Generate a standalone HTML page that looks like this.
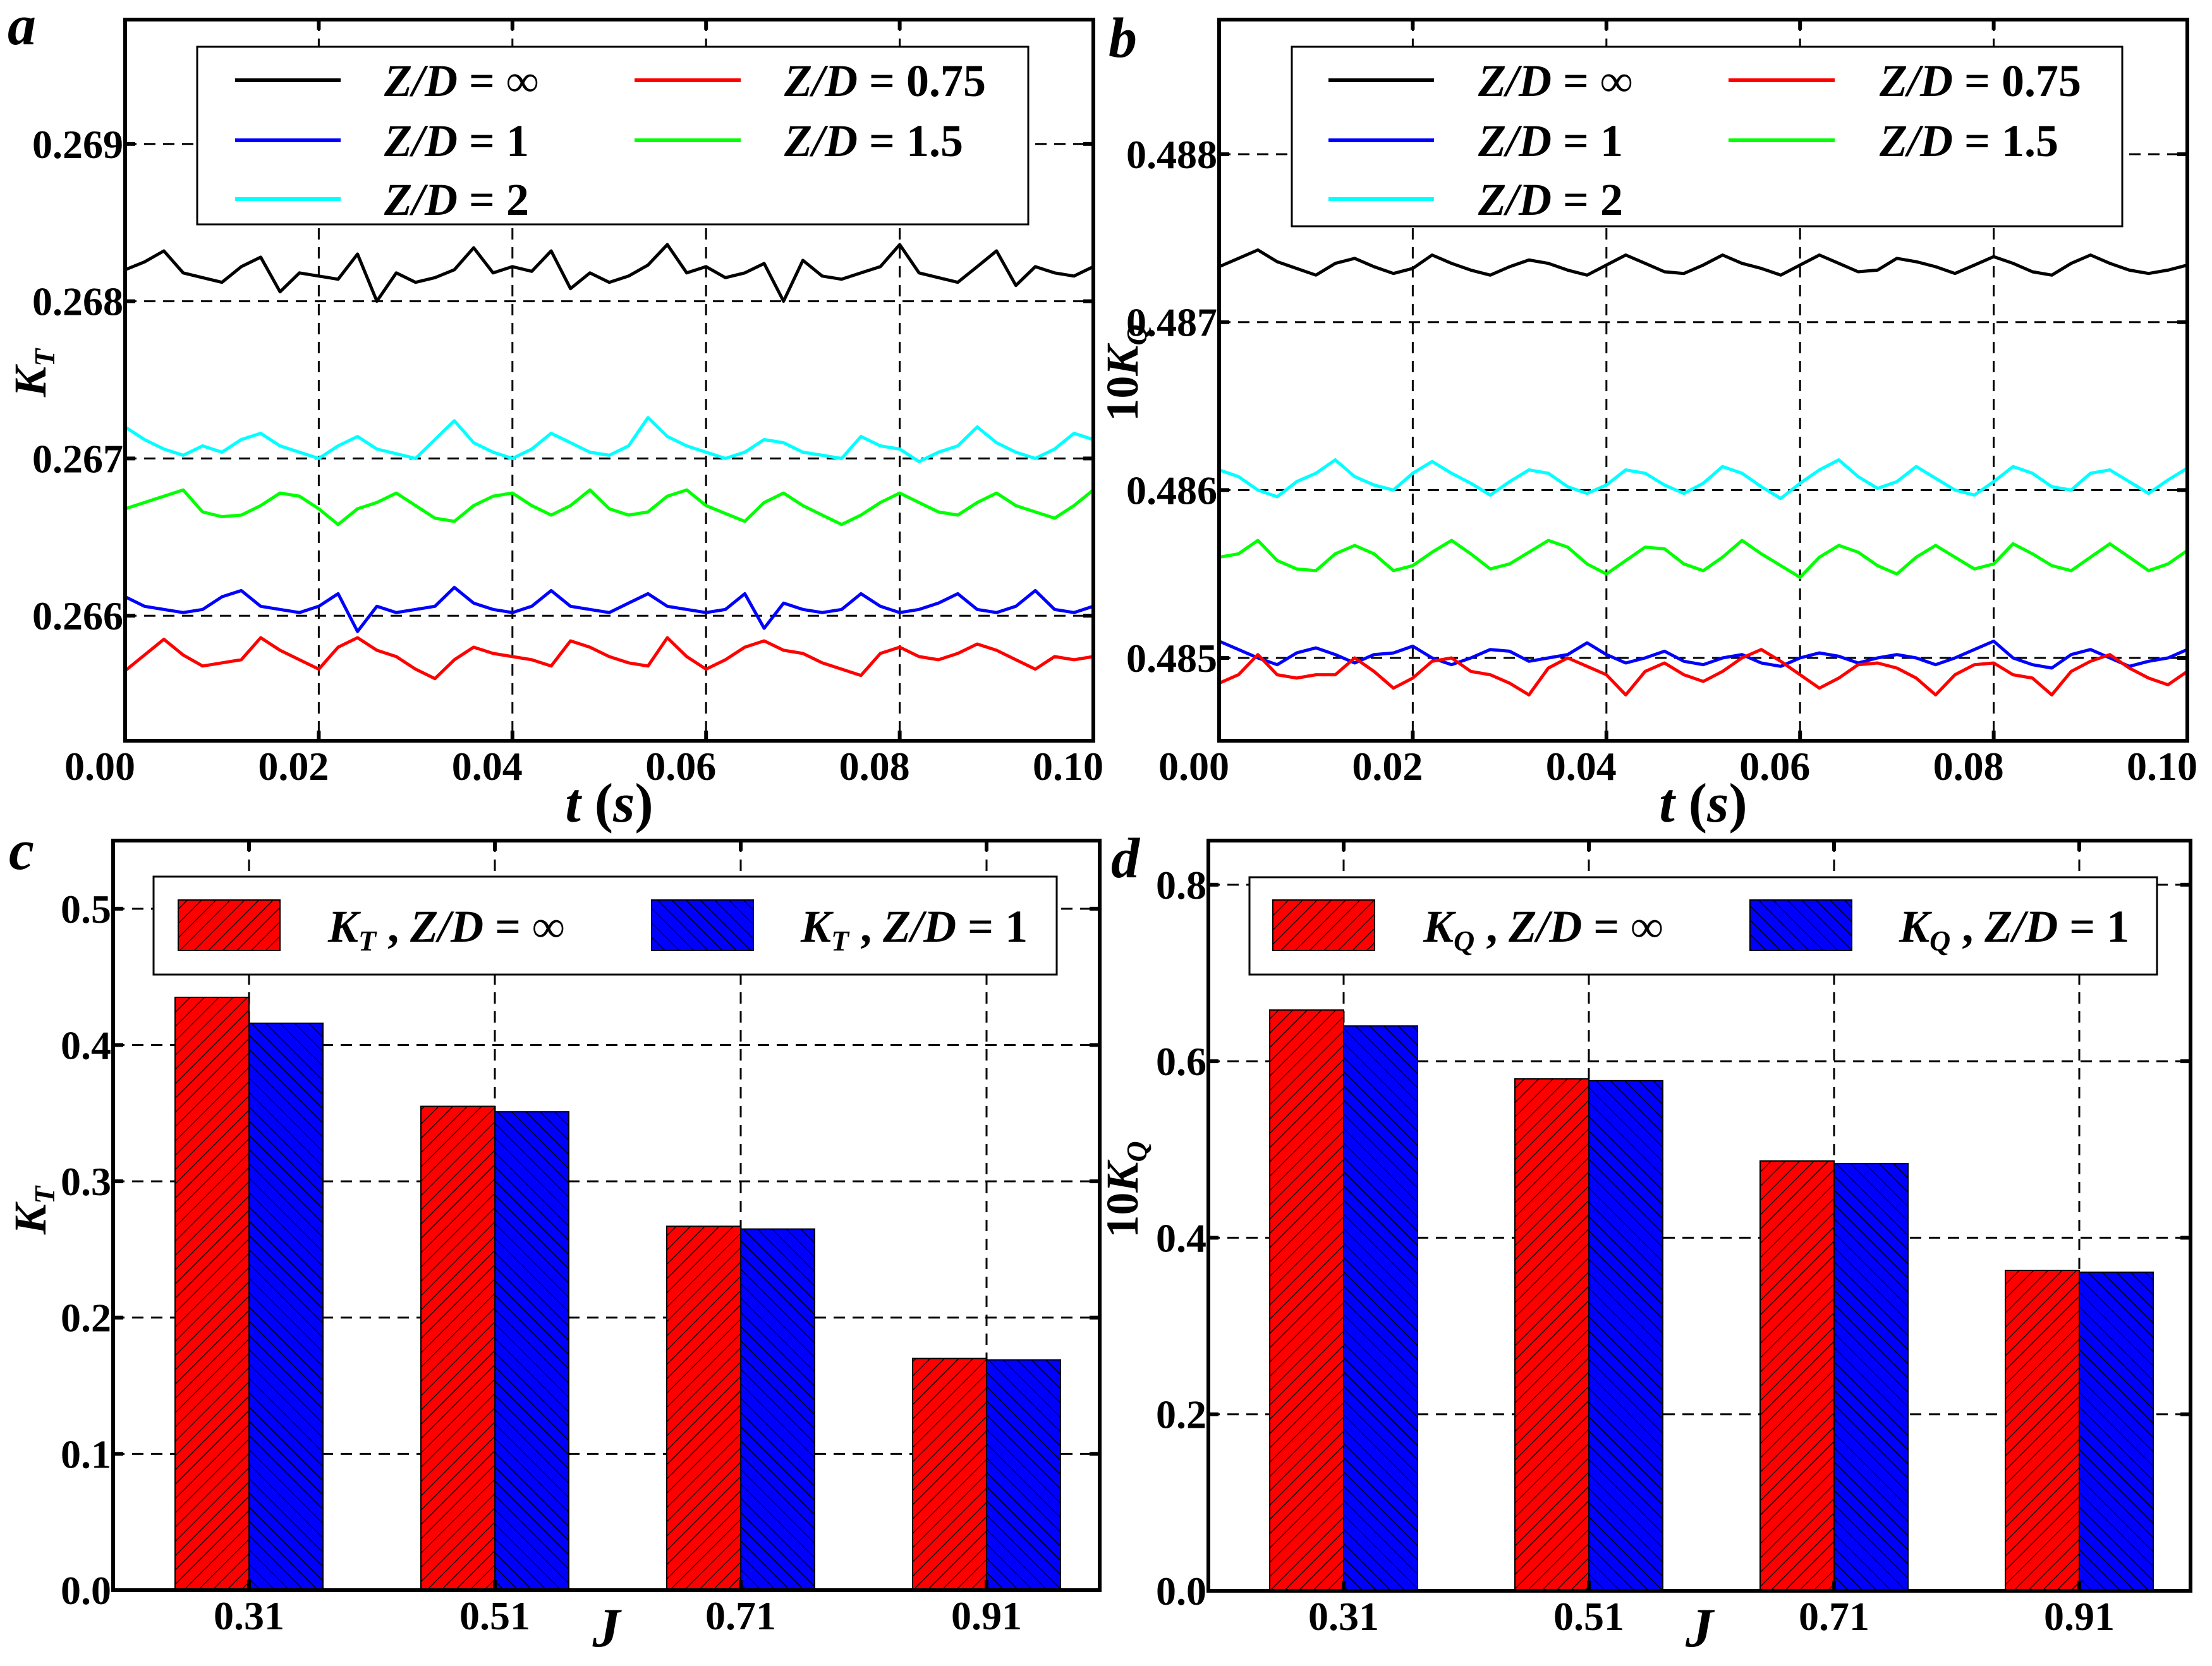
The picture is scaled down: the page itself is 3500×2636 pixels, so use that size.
<!DOCTYPE html>
<html><head><meta charset="utf-8"><style>
html,body{margin:0;padding:0;background:#fff}
svg{display:block}
text{font-family:"Liberation Serif",serif;font-weight:bold;fill:#000}
.it{font-style:italic}
</style></head><body>
<svg id="fig" xmlns="http://www.w3.org/2000/svg" width="3500" height="2636" viewBox="0 0 3500 2636">
<defs>
<pattern id="hatchR" patternUnits="userSpaceOnUse" width="16" height="16" patternTransform="rotate(45)">
<rect width="16" height="16" fill="#ff0000"/><line x1="0" y1="0" x2="0" y2="16" stroke="#000" stroke-width="2.5"/></pattern>
<pattern id="hatchB" patternUnits="userSpaceOnUse" width="16" height="16" patternTransform="rotate(-45)">
<rect width="16" height="16" fill="#0000ff"/><line x1="0" y1="0" x2="0" y2="16" stroke="#000" stroke-width="2.5"/></pattern>
</defs>
<g id="root"></g>
</svg>
<script>
const NS="http://www.w3.org/2000/svg";
const tValues=[];for(let i=0;i<=50;i++)tValues.push(i*0.002);
const seriesNames=["∞","1","2","0.75","1.5"];
const seriesColors=["#000000","#0000ff","#00ffff","#ff0000","#00ff00"];
const aBlack=[0.26820,0.26825,0.26832,0.26818,0.26815,0.26812,0.26822,0.26828,0.26806,0.26818,0.26816,0.26814,0.26830,0.26800,0.26818,0.26812,0.26815,0.26820,0.26834,0.26818,0.26822,0.26819,0.26832,0.26808,0.26818,0.26812,0.26816,0.26823,0.26836,0.26818,0.26822,0.26815,0.26818,0.26824,0.26800,0.26826,0.26816,0.26814,0.26818,0.26822,0.26836,0.26818,0.26815,0.26812,0.26822,0.26832,0.26810,0.26822,0.26818,0.26816,0.26822];
const aBlue=[0.26612,0.26606,0.26604,0.26602,0.26604,0.26612,0.26616,0.26606,0.26604,0.26602,0.26606,0.26614,0.26590,0.26606,0.26602,0.26604,0.26606,0.26618,0.26608,0.26604,0.26602,0.26606,0.26616,0.26606,0.26604,0.26602,0.26608,0.26614,0.26606,0.26604,0.26602,0.26604,0.26614,0.26592,0.26608,0.26604,0.26602,0.26604,0.26614,0.26606,0.26602,0.26604,0.26608,0.26614,0.26604,0.26602,0.26606,0.26616,0.26604,0.26602,0.26606];
const aCyan=[0.26720,0.26712,0.26706,0.26702,0.26708,0.26704,0.26712,0.26716,0.26708,0.26704,0.26700,0.26708,0.26714,0.26706,0.26703,0.26700,0.26712,0.26724,0.26710,0.26704,0.26700,0.26706,0.26716,0.26710,0.26704,0.26702,0.26708,0.26726,0.26714,0.26708,0.26704,0.26700,0.26704,0.26712,0.26710,0.26704,0.26702,0.26700,0.26714,0.26708,0.26706,0.26698,0.26704,0.26708,0.26720,0.26710,0.26704,0.26700,0.26706,0.26716,0.26712];
const aRed=[0.26565,0.26575,0.26585,0.26575,0.26568,0.26570,0.26572,0.26586,0.26578,0.26572,0.26566,0.26580,0.26586,0.26578,0.26574,0.26566,0.26560,0.26572,0.26580,0.26576,0.26574,0.26572,0.26568,0.26584,0.26580,0.26574,0.26570,0.26568,0.26586,0.26574,0.26566,0.26572,0.26580,0.26584,0.26578,0.26576,0.26570,0.26566,0.26562,0.26576,0.26580,0.26574,0.26572,0.26576,0.26582,0.26578,0.26572,0.26566,0.26574,0.26572,0.26574];
const aGreen=[0.26668,0.26672,0.26676,0.26680,0.26666,0.26663,0.26664,0.26670,0.26678,0.26676,0.26668,0.26658,0.26668,0.26672,0.26678,0.26670,0.26662,0.26660,0.26670,0.26676,0.26678,0.26670,0.26664,0.26670,0.26680,0.26668,0.26664,0.26666,0.26676,0.26680,0.26670,0.26665,0.26660,0.26672,0.26678,0.26670,0.26664,0.26658,0.26664,0.26672,0.26678,0.26672,0.26666,0.26664,0.26672,0.26678,0.26670,0.26666,0.26662,0.26670,0.26680];
const bBlack=[0.48733,0.48738,0.48743,0.48736,0.48732,0.48728,0.48735,0.48738,0.48733,0.48729,0.48732,0.48740,0.48735,0.48731,0.48728,0.48733,0.48737,0.48735,0.48731,0.48728,0.48734,0.48740,0.48735,0.48730,0.48729,0.48734,0.48740,0.48735,0.48732,0.48728,0.48734,0.48740,0.48735,0.48730,0.48731,0.48738,0.48736,0.48733,0.48729,0.48734,0.48739,0.48735,0.48730,0.48728,0.48735,0.48740,0.48735,0.48731,0.48729,0.48731,0.48734];
const bBlue=[0.48510,0.48505,0.48500,0.48496,0.48503,0.48506,0.48502,0.48497,0.48502,0.48503,0.48507,0.48500,0.48496,0.48500,0.48505,0.48504,0.48498,0.48500,0.48502,0.48509,0.48502,0.48497,0.48500,0.48504,0.48498,0.48496,0.48500,0.48502,0.48497,0.48495,0.48500,0.48503,0.48501,0.48497,0.48500,0.48502,0.48500,0.48496,0.48500,0.48505,0.48510,0.48500,0.48496,0.48494,0.48502,0.48505,0.48500,0.48495,0.48498,0.48500,0.48505];
const bCyan=[0.48612,0.48608,0.48600,0.48596,0.48605,0.48610,0.48618,0.48608,0.48603,0.48600,0.48610,0.48617,0.48610,0.48604,0.48597,0.48605,0.48612,0.48610,0.48602,0.48598,0.48603,0.48612,0.48610,0.48603,0.48598,0.48604,0.48614,0.48610,0.48602,0.48595,0.48604,0.48612,0.48618,0.48608,0.48601,0.48605,0.48614,0.48607,0.48600,0.48597,0.48605,0.48614,0.48610,0.48602,0.48600,0.48610,0.48612,0.48605,0.48598,0.48606,0.48613];
const bRed=[0.48485,0.48490,0.48502,0.48490,0.48488,0.48490,0.48490,0.48500,0.48492,0.48482,0.48488,0.48498,0.48500,0.48492,0.48490,0.48485,0.48478,0.48494,0.48500,0.48495,0.48490,0.48478,0.48492,0.48497,0.48490,0.48486,0.48492,0.48500,0.48505,0.48498,0.48490,0.48482,0.48488,0.48496,0.48497,0.48494,0.48488,0.48478,0.48490,0.48496,0.48497,0.48490,0.48488,0.48478,0.48492,0.48498,0.48502,0.48494,0.48488,0.48484,0.48492];
const bGreen=[0.48560,0.48562,0.48570,0.48558,0.48553,0.48552,0.48562,0.48567,0.48562,0.48552,0.48555,0.48563,0.48570,0.48562,0.48553,0.48556,0.48563,0.48570,0.48566,0.48556,0.48550,0.48558,0.48566,0.48565,0.48556,0.48552,0.48560,0.48570,0.48562,0.48555,0.48548,0.48560,0.48567,0.48563,0.48555,0.48550,0.48560,0.48567,0.48560,0.48553,0.48556,0.48568,0.48562,0.48555,0.48552,0.48560,0.48568,0.48560,0.48552,0.48556,0.48564];
const xTicksT=[0,0.02,0.04,0.06,0.08,0.10];
const xTickLabelsT=["0.00","0.02","0.04","0.06","0.08","0.10"];
const yTicksA=[0.266,0.267,0.268,0.269];
const yTickLabelsA=["0.266","0.267","0.268","0.269"];
const yTicksB=[0.485,0.486,0.487,0.488];
const yTickLabelsB=["0.485","0.486","0.487","0.488"];
const jCategories=["0.31","0.51","0.71","0.91"];
const ktInf=[0.435,0.355,0.267,0.170];
const ktOne=[0.416,0.351,0.265,0.169];
const kqInf=[0.658,0.580,0.487,0.363];
const kqOne=[0.640,0.578,0.484,0.361];
const yTicksC=[0.0,0.1,0.2,0.3,0.4,0.5];
const yTickLabelsC=["0.0","0.1","0.2","0.3","0.4","0.5"];
const yTicksD=[0.0,0.2,0.4,0.6,0.8];
const yTickLabelsD=["0.0","0.2","0.4","0.6","0.8"];

const root=document.getElementById('root');
function mk(tag,attrs,parent){const e=document.createElementNS(NS,tag);for(const k in attrs)e.setAttribute(k,attrs[k]);(parent||root).appendChild(e);return e;}
function lin(d0,d1,r0,r1){return v=>r0+(v-d0)/(d1-d0)*(r1-r0);}

function grid(g,L,R,T,B,xs,ys,xt,yt,xGrid){
  if(xGrid)xt.forEach(v=>{const x=xs(v);if(Math.abs(x-L)>3&&Math.abs(x-R)>3){const l=mk('line',{x1:x,x2:x,y1:T,y2:B,stroke:'#000','stroke-width':3,'stroke-dasharray':'18,12'},g);
    
    }});
  yt.forEach(v=>{const y=ys(v);if(Math.abs(y-B)>3){const l=mk('line',{x1:L,x2:R,y1:y,y2:y,stroke:'#000','stroke-width':3,'stroke-dasharray':'18,12'},g);
    
    }});
}
function axesOver(g,L,R,T,B,xs,ys,xt,yt,xl,yl,xlShift){
  const f=mk('rect',{x:L,y:T,width:R-L,height:B-T,fill:'none',stroke:'#000','stroke-width':6},g);
  
  
  xt.forEach((v,i)=>{const x=xs(v);
    mk('line',{x1:x,x2:x,y1:B,y2:B-16,stroke:'#000','stroke-width':6},g);mk('line',{x1:x,x2:x,y1:T,y2:T+16,stroke:'#000','stroke-width':6},g);
    const t=mk('text',{x:x+xlShift,y:B+62,'font-size':64,'text-anchor':'middle'},g);t.textContent=xl[i];
    
    });
  yt.forEach((v,i)=>{const y=ys(v);
    mk('line',{x1:L,x2:L+16,y1:y,y2:y,stroke:'#000','stroke-width':6},g);mk('line',{x1:R,x2:R-16,y1:y,y2:y,stroke:'#000','stroke-width':6},g);
    const t=mk('text',{x:L-3,y:y+22,'font-size':64,'text-anchor':'end'},g);t.textContent=yl[i];
    
    });
}
function txt(g,x,y,size,html,anchor,rot,name){const t=mk('text',{x:x,y:y,'font-size':size,'text-anchor':anchor||'start'},g);
  if(rot)t.setAttribute('transform','rotate(-90 '+x+' '+y+')');t.innerHTML=html;
  
  return t;}

function timePanel(id,L,R,T,B,y0,y1,data,yt,yl,legBox,leg,ylabelHtml,ylx,letter,lx,ly){
  const g=mk('g',{});
  
  
  const xs=lin(0,0.1,L,R),ys=lin(y0,y1,B,T);
  grid(g,L,R,T,B,xs,ys,xTicksT,yt,true);
  data.forEach((arr,si)=>{
    const pts=arr.map((v,i)=>xs(tValues[i]).toFixed(1)+','+ys(v).toFixed(1)).join(' ');
    const p=mk('polyline',{points:pts,fill:'none',stroke:seriesColors[si],'stroke-width':5,'stroke-linejoin':'round'},g);
    
    
  });
  const lg=mk('g',{},g);
  
  
  mk('rect',{x:legBox[0],y:legBox[1],width:legBox[2]-legBox[0],height:legBox[3]-legBox[1],fill:'#fff',stroke:'#000','stroke-width':3},lg);
  const rows=[legBox[1]+53,legBox[1]+148,legBox[1]+241];
  const order=[[0,0,0],[1,0,1],[2,0,2],[3,1,0],[4,1,1]];
  order.forEach(o=>{const [si,col,row]=o;const y=rows[row];
    const e=mk('g',{},lg);
    
    
    mk('line',{x1:leg[col][0],x2:leg[col][1],y1:y,y2:y,stroke:seriesColors[si],'stroke-width':6},e);
    const t=mk('text',{x:leg[col][2],y:y+25,'font-size':72},e);
    t.innerHTML='<tspan class="it">Z/D</tspan> = '+seriesNames[si];
  });
  axesOver(g,L,R,T,B,xs,ys,xTicksT,yt,xTickLabelsT,yl,-40);
  txt(g,(L+R)/2,1300,88,'<tspan class="it">t</tspan> (<tspan class="it">s</tspan>)','middle',false,'x-axis-title');
  txt(g,ylx,590,72,ylabelHtml,'middle',true,'y-axis-title');
  txt(g,lx,ly,90,'<tspan class="it">'+letter+'</tspan>','start',false,'panel-letter');
}
timePanel('a',198,1730,31,1172,0.265205,0.269791,[aBlack,aBlue,aCyan,aRed,aGreen],yTicksA,yTickLabelsA,[312,74,1627,355],[[372,539,608],[1004,1172,1241]],'<tspan class="it">K</tspan><tspan class="it" font-size="46" dy="14">T</tspan>',72,'a',12,70);
timePanel('b',1929,3461,31,1172,0.484507,0.488802,[bBlack,bBlue,bCyan,bRed,bGreen],yTicksB,yTickLabelsB,[2044,74,3358,358],[[2102,2269,2339],[2735,2903,2974]],'10<tspan class="it">K</tspan><tspan class="it" font-size="46" dy="14">Q</tspan>',1800,'b',1754,90);

function barPanel(id,L,R,T,B,ymax,cx,inf,one,yt,yl,legBox,legX,sym,ylabelHtml,ylx,yly,letter,lx,ly){
  const g=mk('g',{});
  
  
  const ys=lin(0,ymax,B,T);
  const xs=i=>cx[0]+i*(cx[1]-cx[0]);
  const idx=jCategories.map((c,i)=>i);
  idx.forEach(i=>{const l=mk('line',{x1:xs(i),x2:xs(i),y1:T,y2:B,stroke:'#000','stroke-width':3,'stroke-dasharray':'18,12'},g);
    
    });
  grid(g,L,R,T,B,null,ys,[],yt,false);
  const bw=117;
  idx.forEach(i=>{
    const x=xs(i);
    const r1=mk('rect',{x:x-bw,y:ys(inf[i]),width:bw,height:B-ys(inf[i]),fill:'url(#hatchR)',stroke:'#000','stroke-width':2},g);
    
    
    const r2=mk('rect',{x:x,y:ys(one[i]),width:bw,height:B-ys(one[i]),fill:'url(#hatchB)',stroke:'#000','stroke-width':2},g);
    
    
  });
  const lg=mk('g',{},g);
  
  
  mk('rect',{x:legBox[0],y:legBox[1],width:legBox[2]-legBox[0],height:legBox[3]-legBox[1],fill:'#fff',stroke:'#000','stroke-width':3},lg);
  [['url(#hatchR)','∞'],['url(#hatchB)','1']].forEach((s,k)=>{
    const e=mk('g',{},lg);
    
    
    mk('rect',{x:legX[k][0],y:1424,width:161,height:80,fill:s[0],stroke:'#000','stroke-width':2},e);
    const t=mk('text',{x:legX[k][1],y:1490,'font-size':72},e);
    t.innerHTML='<tspan class="it">K</tspan><tspan class="it" font-size="46" dy="14">'+sym+'</tspan><tspan dy="-14"> , </tspan><tspan class="it">Z/D</tspan> = '+s[1];
  });
  axesOver(g,L,R,T,B,xs,ys,idx,yt,jCategories,yl,0);
  txt(g,(L+R)/2,2605,88,'<tspan class="it">J</tspan>','middle',false,'x-axis-title');
  txt(g,ylx,yly,72,ylabelHtml,'middle',true,'y-axis-title');
  txt(g,lx,ly,90,'<tspan class="it">'+letter+'</tspan>','start',false,'panel-letter');
}
barPanel('c',179,1740,1330,2516,0.55,[394,783],ktInf,ktOne,yTicksC,yTickLabelsC,[243,1387,1672,1542],[[282,519],[1031,1267]],'T','<tspan class="it">K</tspan><tspan class="it" font-size="46" dy="14">T</tspan>',72,1915,'c',14,1375);
barPanel('d',1912,3466,1330,2517,0.85,[2126,2514],kqInf,kqOne,yTicksD,yTickLabelsD,[1977,1388,3413,1542],[[2014,2252],[2769,3005]],'Q','10<tspan class="it">K</tspan><tspan class="it" font-size="46" dy="14">Q</tspan>',1800,1882,'d',1758,1388);
</script>
</body></html>
